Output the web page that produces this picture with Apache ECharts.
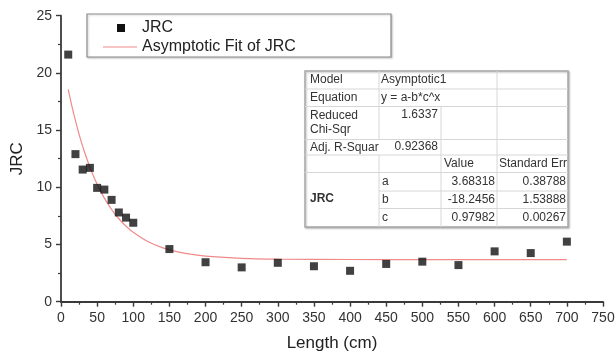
<!DOCTYPE html>
<html style="height: 100%">

<head>
	<meta charset="utf-8">
</head>

<body style="height: 100%; margin: 0; background: #fff">
	<div id="container" style="width: 616px; height: 356px;"></div>

	<script type="text/javascript" src="https://cdn.jsdelivr.net/npm/echarts@6/dist/echarts.min.js"></script>
	<script type="text/javascript">
		// measured points
		let lengths = [10, 20, 30, 40, 50, 60, 70, 80, 90, 100, 150, 200, 250, 300, 350, 400, 450, 500, 550, 600, 650, 700];
		let jrcValues = [21.6, 12.9, 11.55, 11.7, 9.95, 9.8, 8.9, 7.8, 7.35, 6.9, 4.6, 3.45, 3.0, 3.4, 3.1, 2.7, 3.3, 3.5, 3.2, 4.4, 4.25, 5.25];

		// fitted curve
		let fitLengths = [10, 15, 20, 25, 30, 40, 50, 60, 70, 80, 90, 100, 120, 140, 160, 180, 200, 250, 300, 400, 500, 600, 700];
		let fitValues = [18.56, 17.12, 15.82, 14.64, 13.58, 11.76, 10.27, 9.05, 8.06, 7.25, 6.6, 6.06, 5.26, 4.73, 4.38, 4.15, 3.99, 3.79, 3.72, 3.69, 3.68, 3.68, 3.68];

		// fit statistics table
		let modelName = 'Asymptotic1';
		let equationText = 'y = a-b*c^x';
		let chiSqr = '1.6337';
		let adjR2 = '0.92368';
		let paramNames = ['a', 'b', 'c'];
		let paramValues = ['3.68318', '-18.2456', '0.97982'];
		let paramErrors = ['0.38788', '1.53888', '0.00267'];

		let xTicks = { min: 0, max: 750, interval: 50 };
		let yTicks = { min: 0, max: 25, interval: 5 };

		let dom = document.getElementById("container");
		let myChart = echarts.init(dom);

		let scatterData = lengths.map(function (x, i) { return [x, jrcValues[i]]; });
		let fitData = fitLengths.map(function (x, i) { return [x, fitValues[i]]; });

		let txt = '#333';
		let font = '12px "Liberation Sans", Arial, sans-serif';

		// table layout
		let tx = 305, ty = 71;
		let cols = [0, 74, 136, 192, 263];
		let rows = [0, 18, 35.5, 68.5, 84, 101.5, 120, 137.5, 156];

		function hline(y, x1, x2) {
			return { type: 'line', z: 101, shape: { x1: tx + x1, y1: ty + y, x2: tx + x2, y2: ty + y }, style: { stroke: '#d6d6d6', lineWidth: 1 } };
		}
		function vline(x, y1, y2) {
			return { type: 'line', z: 101, shape: { x1: tx + x, y1: ty + y1, x2: tx + x, y2: ty + y2 }, style: { stroke: '#d6d6d6', lineWidth: 1 } };
		}
		function cell(text, x, y, align, weight) {
			return {
				type: 'text', z: 102,
				style: {
					text: text, x: tx + x, y: ty + y, fill: txt,
					font: (weight || '') + ' ' + font, align: align || 'left', verticalAlign: 'middle'
				}
			};
		}

		let tableEls = [];
		tableEls.push({
			type: 'rect', z: 100,
			shape: { x: tx, y: ty, width: cols[4], height: rows[8] },
			style: { fill: '#fff', stroke: '#a8a8a8', lineWidth: 1.5, shadowBlur: 2, shadowColor: 'rgba(0,0,0,0.25)', shadowOffsetX: 1, shadowOffsetY: 1 }
		});
		[1, 2, 3, 4, 5].forEach(function (r) { tableEls.push(hline(rows[r], 0, cols[4])); });
		tableEls.push(hline(rows[6], cols[1], cols[4]));
		tableEls.push(hline(rows[7], cols[1], cols[4]));
		tableEls.push(vline(cols[1], 0, rows[3]));
		tableEls.push(vline(cols[1], rows[4], rows[8]));
		tableEls.push(vline(cols[2], rows[2], rows[8]));
		tableEls.push(vline(cols[3], 0, rows[8]));

		tableEls.push(cell('Model', 5, 9));
		tableEls.push(cell(modelName, cols[1] + 2, 8.5));
		tableEls.push(cell('Equation', 5, 27));
		tableEls.push(cell(equationText, cols[1] + 2, 26.5));
		tableEls.push(cell('Reduced', 5, 45));
		tableEls.push(cell('Chi-Sqr', 5, 59));
		tableEls.push(cell(chiSqr, cols[2] - 3, 44, 'right'));
		tableEls.push(cell('Adj. R-Squar', 5, 76.5));
		tableEls.push(cell(adjR2, cols[2] - 3, 76, 'right'));
		tableEls.push(cell('Value', cols[2] + 3, 93));
		tableEls.push(cell('Standard Err', cols[3] + 2, 93));
		tableEls.push(cell('JRC', 5, 128, 'left', 'bold'));
		paramNames.forEach(function (p, i) {
			let cy = (rows[5 + i] + rows[6 + i]) / 2;
			tableEls.push(cell(p, cols[1] + 3, cy));
			tableEls.push(cell(paramValues[i], cols[3] - 2, cy, 'right'));
			tableEls.push(cell(paramErrors[i], cols[4] - 2, cy, 'right'));
		});

		// legend box
		let legendEls = [
			{
				type: 'rect', z: 100,
				shape: { x: 87, y: 14, width: 304, height: 43 },
				style: { fill: '#fff', stroke: '#8c8c8c', lineWidth: 1.2, shadowBlur: 2, shadowColor: 'rgba(0,0,0,0.2)', shadowOffsetX: 1, shadowOffsetY: 1 }
			},
			{ type: 'rect', z: 101, shape: { x: 117, y: 24, width: 8, height: 8 }, style: { fill: '#111' } },
			{ type: 'text', z: 101, style: { text: 'JRC', x: 142, y: 28, fill: '#222', font: '16px "Liberation Sans", Arial, sans-serif', verticalAlign: 'middle' } },
			{ type: 'line', z: 101, shape: { x1: 103, y1: 47, x2: 137, y2: 47 }, style: { stroke: '#f08a8a', lineWidth: 1.2 } },
			{ type: 'text', z: 101, style: { text: 'Asymptotic Fit of JRC', x: 142, y: 47, fill: '#222', font: '16px "Liberation Sans", Arial, sans-serif', verticalAlign: 'middle' } }
		];

		let axisCommon = {
			axisLine: { lineStyle: { color: '#3a3a3a', width: 1.8 } },
			axisTick: { inside: false, length: 5, lineStyle: { color: '#3a3a3a', width: 1.4 } },
			minorTick: { show: true, splitNumber: 2, length: 3, lineStyle: { color: '#3a3a3a', width: 1.2 } },
			splitLine: { show: false },
			axisLabel: { color: '#333', fontSize: 14, fontFamily: '"Liberation Sans", Arial, sans-serif', margin: 9 },
			nameTextStyle: { color: '#222', fontSize: 17, fontFamily: '"Liberation Sans", Arial, sans-serif' },
			nameLocation: 'middle'
		};

		let option = {
			backgroundColor: '#fff',
			animation: false,
			grid: { left: 61, right: 13, top: 15.7, bottom: 54.3, containLabel: false, outerBoundsMode: 'none' },
			xAxis: Object.assign({}, axisCommon, {
				type: 'value', min: xTicks.min, max: xTicks.max, interval: xTicks.interval,
				name: 'Length (cm)', nameGap: 33
			}),
			yAxis: Object.assign({}, axisCommon, {
				type: 'value', min: yTicks.min, max: yTicks.max, interval: yTicks.interval,
				name: 'JRC', nameGap: 31
			}),
			graphic: legendEls.concat(tableEls),
			series: [
				{
					name: 'Asymptotic Fit of JRC',
					type: 'line',
					data: fitData,
					smooth: 0.4,
					showSymbol: false,
					lineStyle: { color: '#f08a8a', width: 1.2 },
					z: 2
				},
				{
					name: 'JRC',
					type: 'scatter',
					data: scatterData,
					symbol: 'rect',
					symbolSize: 8,
					itemStyle: { color: '#111' },
					z: 3
				}
			]
		};

		myChart.setOption(option, true);
	</script>
</body>

</html>
